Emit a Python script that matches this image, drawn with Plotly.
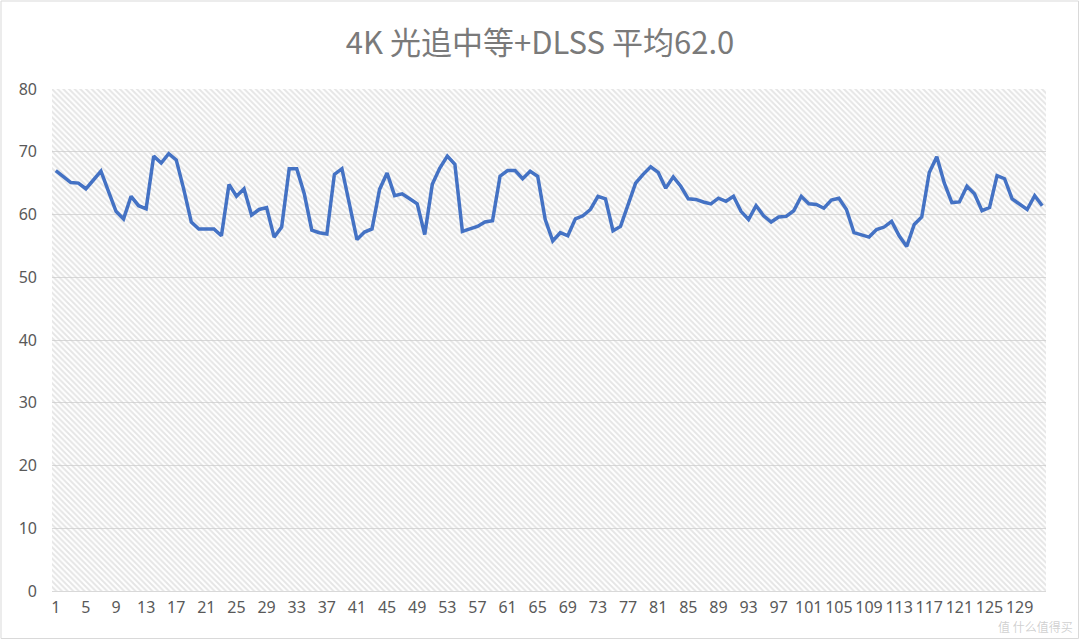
import plotly.graph_objects as go

title_text = "4K 光追中等+DLSS 平均62.0"

fps = [
    67.0, 66.0, 65.1, 65.0, 64.1, 65.5, 66.9, 63.7, 60.5, 59.3,
    62.9, 61.4, 60.9, 69.3, 68.2, 69.7, 68.7, 64.0, 58.8, 57.7,
    57.7, 57.7, 56.6, 64.8, 62.9, 64.1, 59.9, 60.8, 61.1, 56.4,
    58.0, 67.3, 67.3, 63.3, 57.5, 57.1, 56.9, 66.4, 67.3, 61.5,
    56.0, 57.2, 57.7, 64.0, 66.6, 63.0, 63.3, 62.5, 61.7, 56.8,
    64.8, 67.4, 69.3, 68.0, 57.3, 57.7, 58.1, 58.8, 59.0, 66.1,
    67.0, 67.0, 65.7, 66.9, 66.1, 59.2, 55.8, 57.1, 56.6, 59.3,
    59.8, 60.8, 62.9, 62.5, 57.4, 58.1, 61.6, 65.0, 66.4, 67.6,
    66.7, 64.2, 66.0, 64.5, 62.5, 62.4, 62.0, 61.7, 62.6, 62.1,
    62.9, 60.5, 59.2, 61.4, 59.8, 58.8, 59.6, 59.7, 60.6, 62.9,
    61.7, 61.6, 61.0, 62.3, 62.6, 60.8, 57.1, 56.7, 56.4, 57.6,
    58.0, 58.9, 56.6, 54.9, 58.4, 59.6, 66.7, 69.2, 65.0, 61.9,
    62.0, 64.5, 63.3, 60.6, 61.1, 66.2, 65.7, 62.5, 61.7, 60.8,
    63.0, 61.4,
]
frames = list(range(1, len(fps) + 1))
tick_vals = frames[::4]
tick_text = [str(v) for v in tick_vals]
y_ticks = list(range(0, 81, 10))

W, H = 1080, 641
ML, MR, MT, MB = 52, 34, 89, 50

fig = go.Figure()

# hatched plot-area background (decoration, on hidden base axes)
fig.add_trace(go.Bar(
    x=[0.5], y=[1], width=[1], xaxis="x", yaxis="y",
    marker=dict(color="rgba(0,0,0,0)", line_width=0,
                pattern=dict(shape="\\", fgcolor="#cccccc", bgcolor="rgba(0,0,0,0)",
                             size=4, solidity=0.5)),
    hoverinfo="skip", showlegend=False,
))

fig.add_trace(go.Scatter(
    x=frames, y=fps, mode="lines", xaxis="x2", yaxis="y2",
    line=dict(color="#4472C4", width=3.5),
    showlegend=False,
))

fig.update_layout(
    width=W, height=H,
    margin=dict(l=ML, r=MR, t=MT, b=MB),
    paper_bgcolor="white", plot_bgcolor="white",
    bargap=0,
    font=dict(family="Noto Sans, Open Sans, sans-serif", color="#595959", size=16),
    title=dict(text=title_text, x=0.5, xref="container", xanchor="center",
               y=1 - 43 / H, yref="container", yanchor="middle",
               font=dict(family="Noto Sans CJK SC, Noto Sans, sans-serif", size=31, color="#7a7a7a")),
    xaxis=dict(range=[0, 1], visible=False, fixedrange=True),
    yaxis=dict(range=[0, 1], visible=False, fixedrange=True),
    xaxis2=dict(overlaying="x", anchor="y2", range=[0.5, len(fps) + 0.5],
                tickmode="array", tickvals=tick_vals, ticktext=tick_text,
                showgrid=False, zeroline=False, showline=True, linecolor="#d9d9d9", linewidth=1,
                ticks="", ticklabelstandoff=2, tickangle=0,
                tickfont=dict(size=16, color="#595959")),
    yaxis2=dict(overlaying="y", anchor="x2", range=[0, 80], tickvals=y_ticks,
                showgrid=True, gridcolor="#d9d9d9", gridwidth=1, zeroline=False,
                showline=False, ticks="", ticklabelstandoff=14,
                tickfont=dict(size=16, color="#595959")),
)

# outer chart border
pw, ph = W - ML - MR, H - MT - MB
fig.add_shape(type="rect", xref="paper", yref="paper",
              x0=-(ML - 1) / pw, x1=1 + (MR - 1.5) / pw,
              y0=-(MB - 2.5) / ph, y1=1 + (MT - 1) / ph,
              line=dict(color="#d9d9d9", width=1), fillcolor="rgba(0,0,0,0)", layer="below")

# site watermark (kept below the tick labels)
fig.add_annotation(text="值 什么值得买", xref="paper", yref="paper",
                   x=1 + (MR - 6) / pw, y=-(MB - 5) / ph, xanchor="right", yanchor="bottom",
                   showarrow=False, borderpad=0,
                   font=dict(family="Noto Sans CJK SC", size=12, color="rgba(150,150,150,0.45)"))

fig.write_html("out.html")
